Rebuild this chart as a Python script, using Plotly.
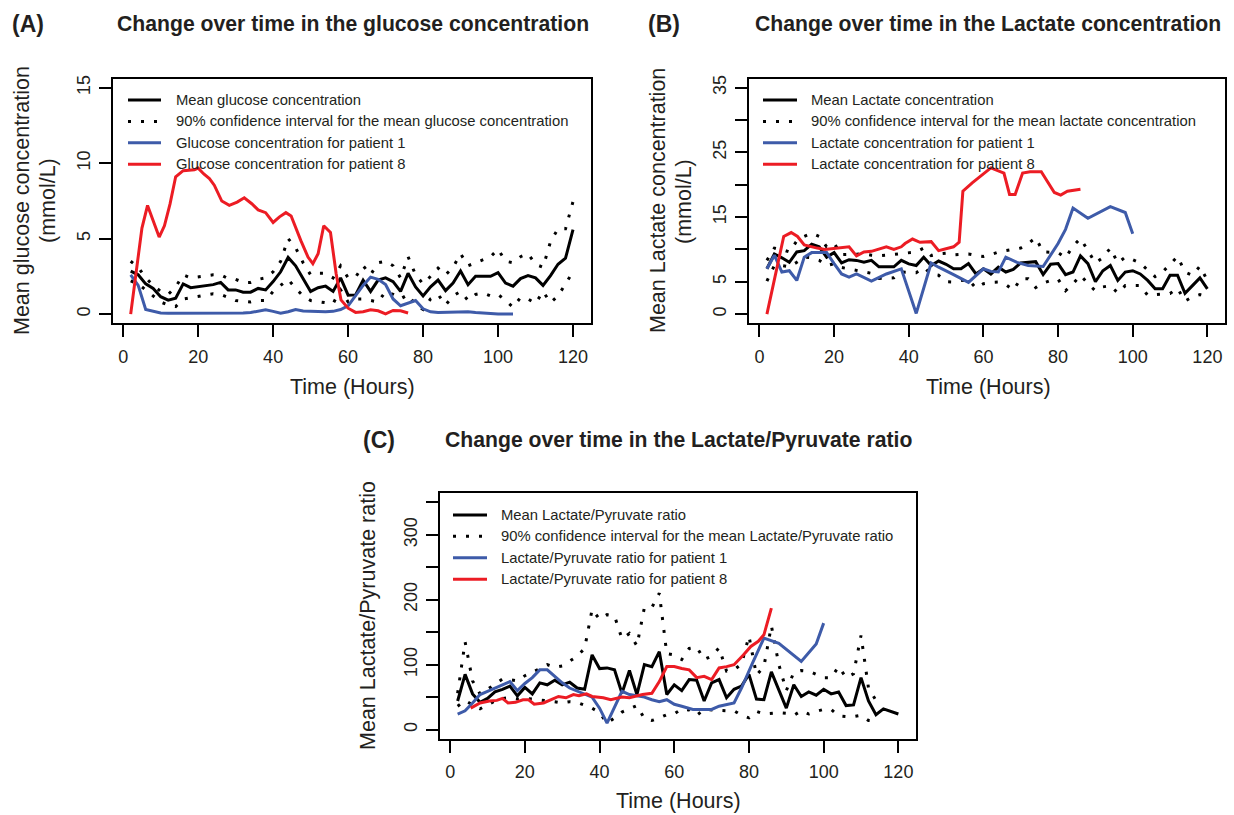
import plotly.graph_objects as go

# ---------------- DATA ----------------
hours = [2, 4, 6, 8, 10, 12, 14, 16, 18, 20, 22, 24, 26, 28, 30, 32, 34, 36, 38, 40,
         42, 44, 46, 48, 50, 52, 54, 56, 58, 60, 62, 64, 66, 68, 70, 72, 74, 76, 78, 80,
         82, 84, 86, 88, 90, 92, 94, 96, 98, 100, 102, 104, 106, 108, 110, 112, 114, 116, 118, 120]

# Panel A: glucose (mmol/L)
glu_mean = [2.84, 2.6, 2.0, 1.7, 1.15, 0.92, 1.05, 2.0, 1.75, 1.8,
            1.85, 1.95, 2.1, 1.6, 1.6, 1.45, 1.45, 1.7, 1.6, 2.15,
            2.8, 3.75, 3.2, 2.3, 1.5, 1.75, 1.85, 1.5, 2.4, 1.25,
            1.27, 2.25, 1.5, 2.25, 2.4, 2.15, 1.5, 2.7, 1.8, 1.2,
            1.8, 2.25, 1.55, 2.05, 2.85, 1.95, 2.5, 2.5, 2.5, 2.75,
            2.05, 1.85, 2.35, 2.55, 2.4, 1.9, 2.55, 3.3, 3.7, 5.6]
glu_upper = [3.5, 3.1, 2.4, 1.9, 1.5, 1.3, 1.8, 2.6, 2.4, 2.45,
             2.5, 2.6, 2.6, 2.35, 2.3, 2.1, 2.1, 2.3, 2.4, 2.8,
             3.5, 5.0, 4.4, 3.4, 2.6, 2.7, 2.7, 2.4, 3.2, 2.4,
             2.45, 3.2, 2.6, 3.4, 3.5, 3.2, 2.4, 3.8, 2.6, 2.0,
             2.5, 3.05, 2.6, 3.1, 4.0, 3.2, 3.4, 3.6, 3.8, 4.3,
             3.5, 3.4, 3.8, 4.0, 3.3, 3.1, 4.8, 5.65, 5.65, 7.45]
glu_lower = [2.2, 2.0, 1.6, 1.2, 0.8, 0.6, 0.5, 1.0, 1.1, 1.2,
             1.25, 1.35, 1.3, 1.1, 0.9, 0.85, 0.8, 0.9, 0.9, 1.5,
             1.9, 2.3, 1.7, 1.2, 0.9, 0.8, 0.75, 0.7, 1.6, 0.8,
             1.0, 1.0, 0.9, 0.8, 1.5, 1.3, 1.0, 1.3, 0.6, 0.3,
             1.0, 1.3, 0.6, 1.2, 1.5, 0.9, 1.3, 1.4, 1.2, 1.3,
             0.9, 0.45, 1.1, 1.0, 0.7, 1.5, 0.75, 1.2, 2.0, 2.8]
glu_p1_t = hours[:52]
glu_p1 = [2.6, 1.9, 0.3, 0.2, 0.07, 0.05, 0.05, 0.05, 0.03, 0.03,
          0.03, 0.03, 0.03, 0.03, 0.05, 0.07, 0.1, 0.2, 0.28, 0.18,
          0.05, 0.15, 0.3, 0.2, 0.18, 0.15, 0.15, 0.18, 0.3, 0.55,
          1.2, 1.9, 2.45, 2.3, 1.95, 1.0, 0.55, 0.7, 0.9, 0.35,
          0.15, 0.1, 0.12, 0.12, 0.15, 0.15, 0.1, 0.05, 0.0, 0.0,
          0.0, 0.0]
glu_p8_t = [2, 5, 6.5, 9.6, 11, 12.5, 14, 16, 19, 20, 21.5, 23, 24.3, 26.3, 28.3,
            30.4, 32.3, 34.3, 36, 38, 40, 41.7, 43.4, 44.8, 47.4, 49.3, 50.6, 52,
            53.5, 55.3, 56.8, 58.1, 60, 62, 64, 66, 68, 70, 72, 74, 76]
glu_p8 = [0, 5.7, 7.2, 5.1, 5.85, 7.3, 9.1, 9.5, 9.56, 9.67, 9.28, 8.98, 8.54, 7.49, 7.2,
          7.42, 7.71, 7.31, 6.9, 6.72, 6.07, 6.44, 6.72, 6.5, 4.87, 3.78, 3.34, 4.0,
          5.85, 5.41, 2.69, 0.94, 0.39, 0.11, 0.15, 0.28, 0.22, 0.02, 0.24, 0.22, 0.07]

# Panel B: lactate (mmol/L)
lac_mean = [7.0, 9.3, 8.7, 8.0, 9.6, 9.8, 10.8, 10.4, 8.8, 9.5,
            7.9, 8.4, 8.3, 8.0, 8.3, 7.3, 7.3, 7.3, 8.3, 7.75,
            7.5, 8.8, 7.5, 8.2, 7.7, 7.0, 7.0, 7.8, 6.2, 7.0,
            6.2, 7.25, 6.5, 6.9, 7.9, 8.0, 8.1, 6.1, 7.7, 7.8,
            6.1, 6.5, 9.0, 7.8, 5.0, 6.7, 7.5, 5.2, 6.5, 6.7,
            6.2, 5.2, 3.9, 3.9, 6.0, 6.0, 3.2, 4.4, 5.6, 3.9]
lac_upper = [8.3, 10.2, 10.0, 9.6, 11.3, 12.0, 12.5, 12.0, 10.4, 10.9,
             9.2, 9.2, 9.3, 9.3, 9.1, 9.0, 9.1, 9.2, 9.3, 9.4,
             9.6, 10.2, 9.05, 9.3, 9.4, 9.15, 9.2, 9.3, 9.05, 8.9,
             9.2, 9.6, 9.8, 10.05, 10.2, 10.9, 11.8, 9.6, 9.5, 9.5,
             8.7, 10.5, 11.7, 9.7, 7.9, 8.7, 10.2, 7.9, 8.8, 8.4,
             7.9, 6.8, 5.8, 6.5, 7.7, 8.9, 6.5, 6.0, 7.4, 5.2]
lac_lower = [5.1, 7.5, 7.5, 7.3, 8.0, 8.8, 8.7, 8.3, 7.5, 7.8,
             7.2, 7.0, 6.8, 6.5, 6.3, 5.5, 5.5, 5.6, 6.5, 6.5,
             6.4, 7.2, 6.2, 6.0, 5.0, 4.95, 5.2, 5.3, 4.0, 4.7,
             4.9, 4.95, 4.55, 3.7, 5.45, 5.45, 4.1, 4.8, 5.2, 5.4,
             3.6, 4.7, 6.0, 4.7, 3.6, 4.2, 4.4, 3.25, 4.4, 4.4,
             4.4, 2.9, 3.0, 3.17, 3.17, 4.0, 2.0, 2.65, 3.0, 2.7]
lac_p1_t = [2, 4, 6, 8, 10, 12, 14, 16, 18, 20, 22, 24, 26, 30, 32, 34, 38, 42,
            46, 48, 52, 56, 60, 62, 64, 66, 69, 72, 76, 80, 82, 84, 88, 94, 98, 100]
lac_p1 = [7.0, 9.1, 6.5, 6.7, 5.2, 8.8, 9.5, 9.5, 9.5, 7.8, 6.2, 5.7, 6.2, 5.1, 5.6, 6.2, 7.0, 0.1,
          7.9, 7.25, 6.1, 4.9, 7.0, 6.6, 6.5, 8.8, 8.0, 7.5, 7.35, 10.9, 13.1, 16.4, 14.8, 16.6, 15.7, 12.4]
lac_p8_t = [2, 6.5, 8.5, 10.2, 12, 14, 15.5, 17.5, 19.5, 22, 24, 26, 28, 30, 32, 34, 36, 38, 39, 41,
            43, 46, 48, 50, 52, 53.5, 54.5, 57, 59, 62, 65.5, 67, 68.5, 70.5, 72.5, 75.5, 79, 80.7, 82.5, 86]
lac_p8 = [0, 12.0, 12.6, 12.0, 10.7, 10.4, 10.2, 10.0, 10.1, 10.2, 10.4, 9.0, 9.6, 9.7, 10.1, 10.4, 10.0, 10.4, 10.9, 11.6,
          11.1, 11.2, 9.8, 10.05, 10.4, 11.1, 19.0, 20.3, 21.2, 22.6, 21.8, 18.5, 18.5, 21.8, 22.0, 22.0, 18.8, 18.4, 19.0, 19.3]

# Panel C: lactate/pyruvate ratio
lpr_mean = [44, 85, 55, 42, 48, 58, 62, 67, 52, 65,
            55, 72, 69, 76, 69, 73, 64, 62, 115, 94,
            95, 92, 56, 91, 54, 100, 97, 120, 54, 69,
            60, 77, 76, 44, 72, 77, 49, 62, 67, 85,
            47, 46, 89, 62, 33, 69, 51, 58, 53, 62,
            55, 58, 37, 38, 80, 44, 23, 32, 28, 24]
lpr_ci_t = hours[:57]
lpr_upper = [56, 135, 75, 55, 62, 70, 78, 77, 75, 83,
             88, 94, 100, 96, 98, 106, 113, 125, 185, 170,
             177, 175, 140, 148, 129, 188, 188, 210, 117, 115,
             108, 125, 127, 108, 113, 126, 90, 92, 101, 144,
             84, 97, 160, 100, 60, 88, 91, 90, 85, 80,
             80, 97, 80, 86, 145, 64, 45]
lpr_lower = [36, 45, 38, 32, 38, 44, 48, 49, 47, 48,
             47, 46, 45, 43, 41, 43, 42, 38, 33, 26,
             10, 18, 27, 32, 37, 17, 14, 18, 23, 24,
             32, 30, 22, 31, 30, 29, 29, 29, 22, 18,
             28, 24, 25, 26, 25, 22, 29, 24, 28, 31,
             31, 21, 20, 20, 22, 14, 13]
lpr_p1_t = [2, 4, 6, 8, 10, 12, 14, 16, 18, 20, 22, 24, 26, 28, 30, 32, 34, 36, 38, 40, 42,
            46, 48, 50, 52, 54, 56, 58, 60, 62, 65, 70, 72, 76, 78, 81, 84, 88, 94, 98, 100]
lpr_p1 = [24, 29, 41, 54, 59, 64, 68, 74, 60, 71, 80, 92, 92, 82, 72, 64, 59, 55, 50, 33, 10,
          59, 54, 52, 50, 46, 43, 46, 39, 36, 31, 31, 36, 41, 64, 103, 141, 133, 105, 132, 164]
lpr_p8_t = [5.5, 8, 10.5, 12.5, 14, 15.5, 17.5, 19.5, 21, 22.5, 25, 27.5, 29, 31, 33, 34.5, 36.5, 38, 41, 43,
            46, 48, 51.5, 54, 56, 58, 60, 62, 64, 66, 68, 70, 72, 74, 76, 78.5, 80.5, 82.5, 84, 86]
lpr_p8 = [33, 41, 44, 45, 48, 41, 42, 46, 46, 39, 41, 48, 51, 49, 54, 52, 55, 51, 49, 46,
          50, 49, 54, 56, 74, 97, 97, 94, 92, 80, 82, 77, 95, 97, 100, 115, 128, 136, 146, 187]

x_ticks = [0, 20, 40, 60, 80, 100, 120]
glu_yticks = [0, 5, 10, 15]
glu_ytext = ["0", "5", "10", "15"]
lac_yticks = [0, 5, 10, 15, 20, 25, 30, 35]
lac_ytext = ["0", "5", "", "15", "", "25", "", "35"]
lpr_yticks = [0, 50, 100, 150, 200, 250, 300, 350]
lpr_ytext = ["0", "", "100", "", "200", "", "300", ""]

glu_legend = ["Mean glucose concentration",
              "90% confidence interval for the mean glucose concentration",
              "Glucose concentration for patient 1",
              "Glucose concentration for patient 8"]
lac_legend = ["Mean Lactate concentration",
              "90% confidence interval for the mean lactate concentration",
              "Lactate concentration for patient 1",
              "Lactate concentration for patient 8"]
lpr_legend = ["Mean Lactate/Pyruvate ratio",
              "90% confidence interval for the mean Lactate/Pyruvate ratio",
              "Lactate/Pyruvate ratio for patient 1",
              "Lactate/Pyruvate ratio for patient 8"]

# ---------------- STYLE ----------------
W, H = 1234, 815
FONT = "Liberation Sans, Arial, Helvetica, sans-serif"
TXT = "#231F20"
RED = "#EC1C24"
BLUE = "#3E5BA9"
DOT = "3px,10px"
LW = 3


def fx(px):
    return px / W


def fy(py):
    return 1 - py / H


fig = go.Figure()

panels = [
    dict(xa="x", ya="y", mean=glu_mean, up=glu_upper, lo=glu_lower, ci_t=hours,
         p1t=glu_p1_t, p1=glu_p1, p8t=glu_p8_t, p8=glu_p8, names=glu_legend),
    dict(xa="x2", ya="y2", mean=lac_mean, up=lac_upper, lo=lac_lower, ci_t=hours,
         p1t=lac_p1_t, p1=lac_p1, p8t=lac_p8_t, p8=lac_p8, names=lac_legend),
    dict(xa="x3", ya="y3", mean=lpr_mean, up=lpr_upper, lo=lpr_lower, ci_t=lpr_ci_t,
         p1t=lpr_p1_t, p1=lpr_p1, p8t=lpr_p8_t, p8=lpr_p8, names=lpr_legend),
]

for p in panels:
    common = dict(xaxis=p["xa"], yaxis=p["ya"], mode="lines", hoverinfo="skip", showlegend=False)
    fig.add_trace(go.Scatter(x=hours, y=p["mean"], name=p["names"][0],
                             line=dict(color="black", width=LW), **common))
    fig.add_trace(go.Scatter(x=p["ci_t"], y=p["up"], name=p["names"][1],
                             line=dict(color="black", width=LW, dash=DOT), **common))
    fig.add_trace(go.Scatter(x=p["ci_t"], y=p["lo"], name=p["names"][1],
                             line=dict(color="black", width=LW, dash=DOT), **common))
    fig.add_trace(go.Scatter(x=p["p1t"], y=p["p1"], name=p["names"][2],
                             line=dict(color=BLUE, width=LW), **common))
    fig.add_trace(go.Scatter(x=p["p8t"], y=p["p8"], name=p["names"][3],
                             line=dict(color=RED, width=LW), **common))

xrange = [-2.72, 124.72]


def xaxis(domain, anchor):
    return dict(domain=domain, anchor=anchor, range=xrange, tickvals=x_ticks,
                showline=True, linecolor="black", linewidth=2, mirror=True,
                ticks="outside", ticklen=12, tickwidth=2, tickcolor="black",
                showgrid=False, zeroline=False, ticklabelstandoff=4,
                tickfont=dict(family=FONT, size=18, color=TXT))


def yaxis(domain, anchor, rng, tv, tt):
    return dict(domain=domain, anchor=anchor, range=rng, tickvals=tv, ticktext=tt,
                showline=True, linecolor="black", linewidth=2, mirror=True,
                ticks="outside", ticklen=12, tickwidth=2, tickcolor="black",
                showgrid=False, zeroline=False, tickangle=-90, ticklabelstandoff=2,
                tickfont=dict(family=FONT, size=18, color=TXT))


boxA = (113, 590.7, 75, 320.7)
boxB = (749.3, 1225, 75, 320.7)
boxC = (440, 916, 491.7, 738.3)


def dom(b):
    return [fx(b[0]), fx(b[1])], [fy(b[3]), fy(b[2])]


dxA, dyA = dom(boxA)
dxB, dyB = dom(boxB)
dxC, dyC = dom(boxC)

fig.update_layout(
    width=W, height=H, autosize=False,
    margin=dict(l=0, r=0, t=0, b=0),
    paper_bgcolor="white", plot_bgcolor="white",
    showlegend=False,
    xaxis=xaxis(dxA, "y"), yaxis=yaxis(dyA, "x", [-0.6, 15.6], glu_yticks, glu_ytext),
    xaxis2=xaxis(dxB, "y2"), yaxis2=yaxis(dyB, "x2", [-1.4, 36.4], lac_yticks, lac_ytext),
    xaxis3=xaxis(dxC, "y3"), yaxis3=yaxis(dyC, "x3", [-14, 364], lpr_yticks, lpr_ytext),
)

ann = []
shapes = []


def text(px, py, s, size, bold=False, angle=0, anchor="center"):
    ann.append(dict(x=fx(px), y=fy(py), xref="paper", yref="paper", text=("<b>%s</b>" % s) if bold else s,
                    showarrow=False, xanchor=anchor, yanchor="middle", textangle=angle,
                    font=dict(family=FONT, size=size, color=TXT)))


# Legends drawn as key samples + text, inside each panel
def legend(x0, x1, xt, rows, names):
    styles = [("black", None), ("black", DOT), (BLUE, None), (RED, None)]
    for (col, dash), py, name in zip(styles, rows, names):
        line = dict(color=col, width=LW)
        if dash:
            line["dash"] = dash
        shapes.append(dict(type="line", xref="paper", yref="paper",
                           x0=fx(x0), x1=fx(x1), y0=fy(py), y1=fy(py), line=line))
        text(xt, py, name, 14.8, anchor="left")


legend(128, 161, 174, [96.5, 118, 139.5, 161], glu_legend)
legend(763, 797, 809, [96.5, 118, 139.5, 161], lac_legend)
legend(453, 487, 499, [513.5, 535, 556.5, 578], lpr_legend)

# Panel labels and titles
text(28, 20, "(A)", 23, bold=True)
text(353, 20, "Change over time in the glucose concentration", 21.2, bold=True)
text(664, 20, "(B)", 23, bold=True)
text(988, 20, "Change over time in the Lactate concentration", 21.2, bold=True)
text(379, 438, "(C)", 23, bold=True)
text(678, 438, "Change over time in the Lactate/Pyruvate ratio", 21.2, bold=True)

# Axis titles
text(352, 385, "Time (Hours)", 21.5)
text(988, 385, "Time (Hours)", 21.5)
text(678, 801, "Time (Hours)", 21.5)
text(22, 198, "Mean glucose concentration", 21.5, angle=-90)
text(48, 198, "(mmol/L)", 21.5, angle=-90)
text(658, 198, "Mean Lactate concentration", 21.5, angle=-90)
text(684, 198, "(mmol/L)", 21.5, angle=-90)
text(368, 615, "Mean Lactate/Pyruvate ratio", 21.5, angle=-90)

fig.update_layout(annotations=ann, shapes=shapes)

fig.write_html("out.html")
